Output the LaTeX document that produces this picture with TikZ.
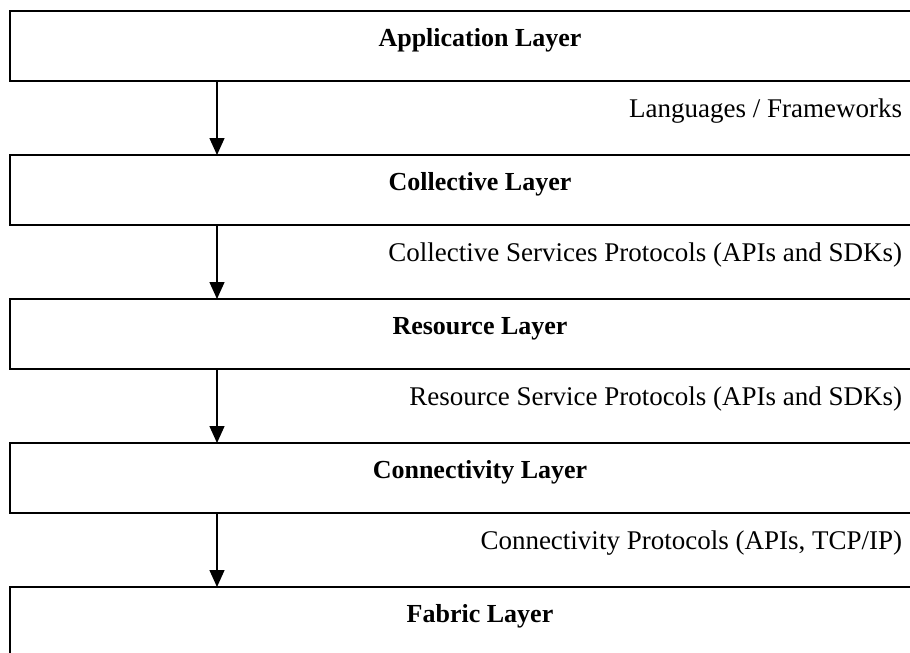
\documentclass[tikz,border=0pt]{standalone}
\usepackage{fontspec}
\setmainfont{Liberation Serif}
\usetikzlibrary{arrows.meta,positioning}

\begin{document}
\begin{tikzpicture}[x=1pt,y=-1pt,% y runs downwards, as in the reference
			every node/.style={
				font=\fontsize{26}{31}\selectfont,
				inner sep=0pt, outer sep=0pt
			},
			layer/.style={
				rectangle, draw=black, line width=1.8pt,
				minimum width=940pt, minimum height=70pt,
				text height=35pt, text depth=35pt,	% puts the baseline 35pt below the top edge
				font=\fontsize{26}{31}\selectfont\bfseries
			},
			proto/.style={
				text height=18pt, text depth=6pt,
				font=\fontsize{27}{32}\selectfont
			},
			node distance=74pt,
			>={Triangle[width=15pt,length=17pt]},
			every edge/.style={draw,line width=1.4pt}
		]
		\useasboundingbox (0,0) rectangle (910,653);
		\coordinate (A) at (217,0);	% column of the arrows

		\node[layer](R1) at (480,46){Application Layer};
		\node[layer](R2)[below= of R1]{Collective Layer};
		\node[layer](R3)[below= of R2]{Resource Layer};
		\node[layer](R4)[below= of R3]{Connectivity Layer};
		\node[layer](R5)[below= of R4]{Fabric Layer};

		\node[proto](P1)[below left=18pt and 48pt of R1.south east]{Languages / Frameworks};
		\node[proto](P2)[below left=18pt and 48pt of R2.south east]{Collective Services Protocols (APIs and SDKs)};
		\node[proto](P3)[below left=18pt and 48pt of R3.south east]{Resource Service Protocols (APIs and SDKs)};
		\node[proto](P4)[below left=18pt and 48pt of R4.south east]{Connectivity Protocols (APIs, TCP/IP)};

		\path[->]
		(R1.south -| A)edge []	(R2.north -| A)
		(R2.south -| A)edge []	(R3.north -| A)
		(R3.south -| A)edge []	(R4.north -| A)
		(R4.south -| A)edge []	(R5.north -| A)
		;
	\end{tikzpicture}
\end{document}
